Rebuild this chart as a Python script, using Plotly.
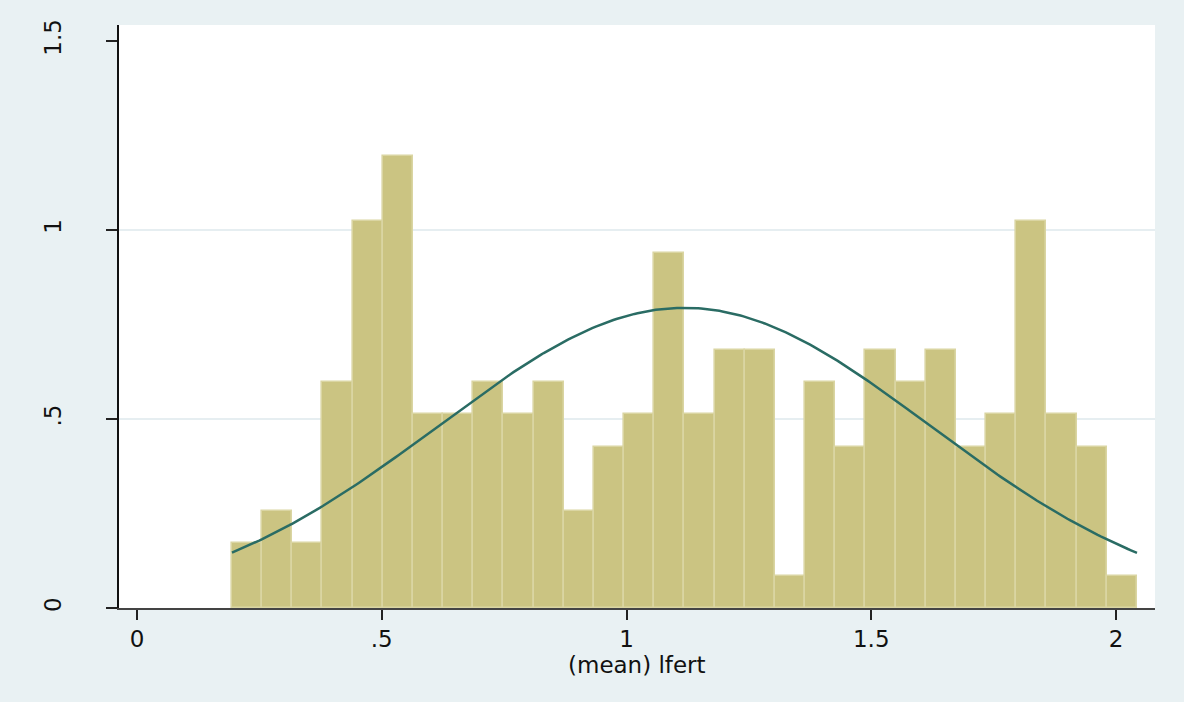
import plotly.graph_objects as go
import numpy as np

# ---- data ----
bin_start = 0.194          # left edge of first bin
bin_width = 0.06163        # width of each bin
bin_counts = [2, 3, 2, 7, 12, 14, 6, 6, 7, 6, 7, 3, 5, 6, 11,
              6, 8, 8, 1, 7, 5, 8, 7, 8, 5, 6, 12, 6, 5, 1]
norm_mean = 1.118          # normal overlay parameters
norm_sd = 0.5025
x_ticks = [0, 0.5, 1, 1.5, 2]
x_tick_labels = ["0", ".5", "1", "1.5", "2"]
y_ticks = [0, 0.5, 1, 1.5]
y_tick_labels = ["0", ".5", "1", "1.5"]
y_grid = [0.5, 1]
x_title = "(mean) lfert"

# ---- derived ----
n_total = sum(bin_counts)
n_bins = len(bin_counts)
centers = [bin_start + (i + 0.5) * bin_width for i in range(n_bins)]
density = [c / (n_total * bin_width) for c in bin_counts]
x_lo = bin_start
x_hi = bin_start + n_bins * bin_width
xs = np.linspace(x_lo, x_hi, 300)
ys = np.exp(-0.5 * ((xs - norm_mean) / norm_sd) ** 2) / (norm_sd * np.sqrt(2 * np.pi))

BG = "#E9F1F3"
FONT = "DejaVu Sans, Liberation Sans, Arial, sans-serif"

fig = go.Figure()
# invisible trace to activate the gridline-only overlay axis
fig.add_trace(go.Scatter(x=[x_lo], y=[0], yaxis="y2", mode="markers",
                         marker=dict(opacity=0), showlegend=False, hoverinfo="skip"))
fig.add_trace(go.Bar(
    x=centers, y=density, width=bin_width,
    marker=dict(color="#CBC482", line=dict(color="#DAD5A2", width=1.6)),
    showlegend=False, hoverinfo="skip",
))
fig.add_trace(go.Scatter(
    x=xs, y=ys, mode="lines",
    line=dict(color="#2A6C64", width=2.5),
    showlegend=False, hoverinfo="skip",
))

fig.update_layout(
    width=1184, height=702,
    paper_bgcolor=BG, plot_bgcolor="white",
    margin=dict(l=119, r=29, t=25, b=94),
    bargap=0,
    font=dict(family=FONT, size=23, color="#111"),
    xaxis=dict(
        range=[-0.0368, 2.0797],
        tickvals=x_ticks, ticktext=x_tick_labels,
        ticks="outside", ticklen=10, tickwidth=1.5, tickcolor="#222",
        showline=True, linecolor="#444", linewidth=1.6,
        showgrid=False, zeroline=False,
        tickfont=dict(size=23),
    ),
    yaxis=dict(
        range=[0, 1.542],
        tickvals=y_ticks, ticktext=y_tick_labels,
        ticks="outside", ticklen=11, tickwidth=1.5, tickcolor="#222",
        showline=True, linecolor="#111", linewidth=1.6,
        showgrid=False, zeroline=False,
        tickangle=-90,
        tickfont=dict(size=23),
        ticklabelstandoff=36,
    ),
    yaxis2=dict(
        range=[0, 1.542], overlaying="y",
        tickvals=y_grid, showticklabels=False, ticks="",
        showgrid=True, gridcolor="#E6EEF1", gridwidth=1.5,
        showline=False, zeroline=False,
    ),
    annotations=[dict(
        text=x_title, xref="paper", yref="paper",
        x=0.5, y=-0.0975, xanchor="center", yanchor="middle",
        showarrow=False, font=dict(size=23, family=FONT, color="#111"),
    )],
)

fig.write_html("out.html", config={"displayModeBar": False},
               post_script="document.body.style.margin='0';document.body.style.background='%s';" % BG)
